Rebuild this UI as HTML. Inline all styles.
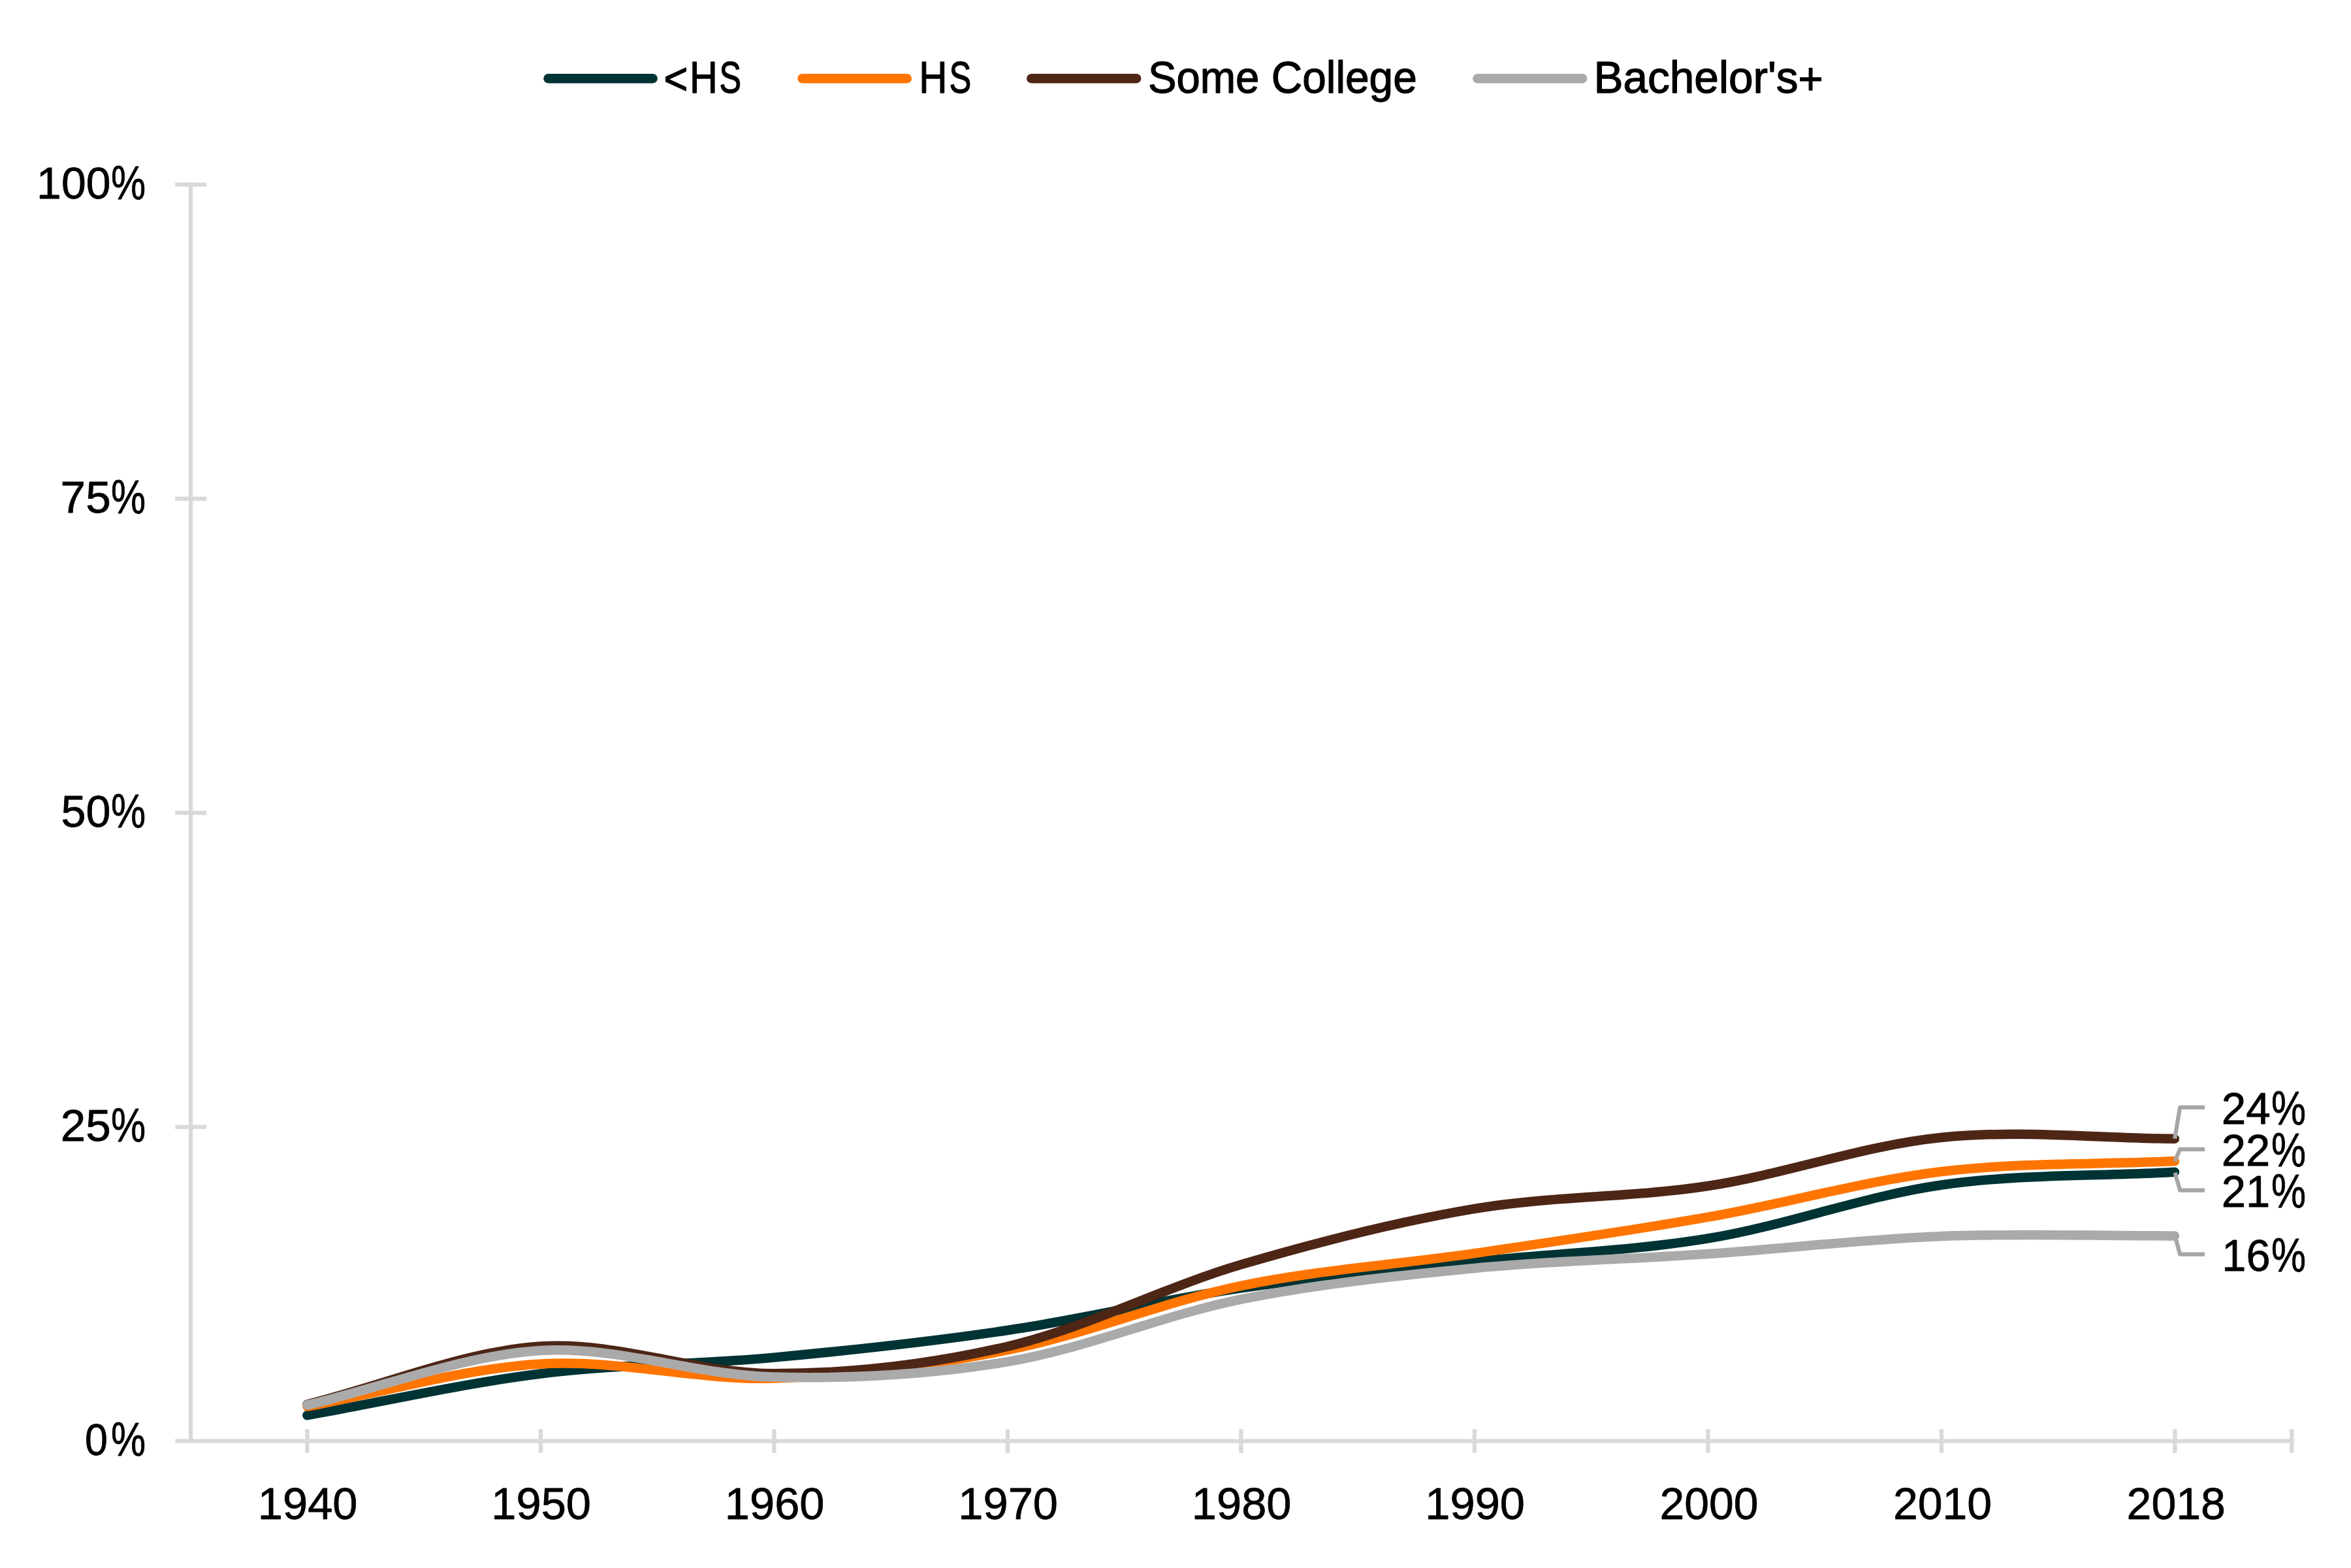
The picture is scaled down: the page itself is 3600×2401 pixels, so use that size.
<!DOCTYPE html>
<html lang="en"><head><meta charset="utf-8"><title>Chart</title>
<style>html,body{margin:0;padding:0;background:#fff}svg{display:block}text{font-family:"Liberation Sans",sans-serif;font-size:68.3px;fill:#000}</style></head>
<body>
<svg width="3600" height="2401" viewBox="0 0 3600 2401">
<rect width="3600" height="2401" fill="#fff"/>
<g stroke="#D9D9D9" stroke-width="6.25" fill="none">
<path d="M292.1 279.6 V2209.7"/>
<path d="M268.2 2206.6 H3512.5"/>
<path d="M268.2 282.7 H316.2"/>
<path d="M268.2 763.7 H316.2"/>
<path d="M268.2 1244.6 H316.2"/>
<path d="M268.2 1725.6 H316.2"/>
<path d="M470.4 2188.4 V2224.8"/>
<path d="M827.9 2188.4 V2224.8"/>
<path d="M1185.4 2188.4 V2224.8"/>
<path d="M1542.9 2188.4 V2224.8"/>
<path d="M1900.4 2188.4 V2224.8"/>
<path d="M2257.9 2188.4 V2224.8"/>
<path d="M2615.4 2188.4 V2224.8"/>
<path d="M2972.9 2188.4 V2224.8"/>
<path d="M3330.4 2188.4 V2224.8"/>
<path d="M3509.3 2188.4 V2224.8"/>
</g>
<g fill="none" stroke-width="14.5" stroke-linecap="round" stroke-linejoin="round">
<path stroke="#003334" d="M470.4 2167.2 C589.6 2146.0 708.7 2118.3 827.9 2103.5 C947.1 2088.7 1066.2 2089.7 1185.4 2078.6 C1304.6 2067.5 1423.7 2054.7 1542.9 2037.0 C1662.1 2019.3 1781.2 1989.9 1900.4 1972.4 C2019.6 1954.9 2138.7 1944.5 2257.9 1931.8 C2377.1 1919.1 2496.2 1916.0 2615.4 1896.4 C2734.6 1876.9 2853.8 1831.5 2972.9 1814.5 C3092.0 1797.5 3210.9 1801.3 3329.9 1794.7"/>
<path stroke="#FF7500" d="M470.4 2153.5 C589.6 2131.8 708.7 2095.7 827.9 2088.5 C947.1 2081.3 1066.2 2114.1 1185.4 2110.5 C1304.6 2106.9 1423.7 2090.8 1542.9 2067.2 C1662.1 2043.6 1781.2 1993.6 1900.4 1968.9 C2019.6 1944.2 2138.7 1936.7 2257.9 1919.2 C2377.1 1901.7 2496.2 1884.6 2615.4 1863.7 C2734.6 1842.8 2853.8 1808.3 2972.9 1794.0 C3092.0 1779.7 3210.9 1783.4 3329.9 1778.1"/>
<path stroke="#4E2616" d="M470.4 2150.5 C589.6 2120.9 708.7 2069.5 827.9 2061.6 C947.1 2053.7 1066.2 2103.3 1185.4 2103.3 C1304.6 2103.3 1423.7 2089.5 1542.9 2061.7 C1662.1 2033.9 1781.2 1971.5 1900.4 1936.4 C2019.6 1901.3 2138.7 1871.0 2257.9 1850.9 C2377.1 1830.8 2496.2 1834.2 2615.4 1816.0 C2734.6 1797.8 2853.8 1753.7 2972.9 1741.7 C3092.0 1729.7 3210.9 1743.1 3329.9 1743.8"/>
<path stroke="#AAAAAA" d="M470.4 2151.4 C589.6 2123.6 708.7 2075.2 827.9 2068.1 C947.1 2061.0 1066.2 2105.8 1185.4 2108.6 C1304.6 2111.4 1423.7 2105.0 1542.9 2085.2 C1662.1 2065.4 1781.2 2013.5 1900.4 1989.6 C2019.6 1965.7 2138.7 1953.6 2257.9 1942.0 C2377.1 1930.4 2496.2 1928.3 2615.4 1920.1 C2734.6 1911.9 2853.8 1897.5 2972.9 1892.9 C3092.0 1888.3 3210.9 1892.6 3329.9 1892.4"/>
</g>
<g fill="none" stroke="#A6A6A6" stroke-width="6.25" stroke-linejoin="round">
<path d="M3330.1 1743.5 L3338.1 1695.7 H3376"/>
<path d="M3330.3 1778.5 L3338.1 1759.9 H3376"/>
<path d="M3330.5 1795.7 L3338.1 1822.6 H3376"/>
<path d="M3330.5 1892.6 L3338.1 1920.5 H3376"/>
</g>
<g fill="none" stroke-width="14.5" stroke-linecap="round">
<path stroke="#003334" d="M839.5 120.2 H999.6"/>
<path stroke="#FF7500" d="M1228.5 120.2 H1388.8"/>
<path stroke="#4E2616" d="M1579.3 120.2 H1740.2"/>
<path stroke="#AAAAAA" d="M2262.3 120.2 H2423.2"/>
</g>
<g stroke="#000" stroke-width="0.80" stroke-linejoin="round">
<text xml:space="preserve" stroke-width="1.3"><tspan x="1016.60" y="144.2" textLength="36.85" lengthAdjust="spacingAndGlyphs">&lt;</tspan><tspan x="1055.95" y="142.0" textLength="42.88" lengthAdjust="spacingAndGlyphs">H</tspan><tspan x="1101.49" y="142.0" textLength="33.52" lengthAdjust="spacingAndGlyphs">S</tspan></text>
<text xml:space="preserve" stroke-width="1.3"><tspan x="1407.21" y="142.0" textLength="43.27" lengthAdjust="spacingAndGlyphs">H</tspan><tspan x="1453.47" y="142.0" textLength="33.76" lengthAdjust="spacingAndGlyphs">S</tspan></text>
<text xml:space="preserve" stroke-width="1.3"><tspan x="1757.91" y="142.0" textLength="188.59" lengthAdjust="spacingAndGlyphs">Some </tspan><tspan x="1946.86" y="142.0" textLength="222.85" lengthAdjust="spacingAndGlyphs">College</tspan></text>
<text xml:space="preserve" stroke-width="1.3"><tspan x="2440.58" y="142.0" textLength="312.94" lengthAdjust="spacingAndGlyphs">Bachelor's</tspan><tspan x="2753.38" y="144.0" textLength="38.17" lengthAdjust="spacingAndGlyphs">+</tspan></text>
<text xml:space="preserve"><tspan x="56.11" y="303.7" textLength="113.31" lengthAdjust="spacingAndGlyphs">100</tspan><tspan x="170.01" y="305.1" font-size="71.7" textLength="53.08" lengthAdjust="spacingAndGlyphs">%</tspan></text>
<text xml:space="preserve"><tspan x="92.56" y="784.7" textLength="77.18" lengthAdjust="spacingAndGlyphs">75</tspan><tspan x="170.01" y="786.1" font-size="71.7" textLength="53.08" lengthAdjust="spacingAndGlyphs">%</tspan></text>
<text xml:space="preserve"><tspan x="93.46" y="1265.6" textLength="76.06" lengthAdjust="spacingAndGlyphs">50</tspan><tspan x="170.01" y="1267.0" font-size="71.7" textLength="53.08" lengthAdjust="spacingAndGlyphs">%</tspan></text>
<text xml:space="preserve"><tspan x="92.74" y="1746.6" textLength="76.99" lengthAdjust="spacingAndGlyphs">25</tspan><tspan x="170.01" y="1748.0" font-size="71.7" textLength="53.08" lengthAdjust="spacingAndGlyphs">%</tspan></text>
<text xml:space="preserve"><tspan x="130.09" y="2227.6" textLength="34.94" lengthAdjust="spacingAndGlyphs">0</tspan><tspan x="170.01" y="2229.0" font-size="71.7" textLength="53.08" lengthAdjust="spacingAndGlyphs">%</tspan></text>
<text xml:space="preserve"><tspan x="3401.83" y="1720.8" textLength="74.87" lengthAdjust="spacingAndGlyphs">24</tspan><tspan x="3478.01" y="1722.2" font-size="71.7" textLength="52.97" lengthAdjust="spacingAndGlyphs">%</tspan></text>
<text xml:space="preserve"><tspan x="3401.76" y="1784.9" textLength="74.37" lengthAdjust="spacingAndGlyphs">22</tspan><tspan x="3478.01" y="1786.3" font-size="71.7" textLength="52.97" lengthAdjust="spacingAndGlyphs">%</tspan></text>
<text xml:space="preserve"><tspan x="3401.76" y="1848.0" textLength="74.37" lengthAdjust="spacingAndGlyphs">21</tspan><tspan x="3478.01" y="1849.4" font-size="71.7" textLength="52.97" lengthAdjust="spacingAndGlyphs">%</tspan></text>
<text xml:space="preserve"><tspan x="3402.30" y="1946.0" textLength="74.19" lengthAdjust="spacingAndGlyphs">16</tspan><tspan x="3478.01" y="1947.4" font-size="71.7" textLength="52.97" lengthAdjust="spacingAndGlyphs">%</tspan></text>
<text xml:space="preserve"><tspan x="394.85" y="2325.8" textLength="152.67" lengthAdjust="spacingAndGlyphs">1940</tspan></text>
<text xml:space="preserve"><tspan x="752.35" y="2325.8" textLength="152.67" lengthAdjust="spacingAndGlyphs">1950</tspan></text>
<text xml:space="preserve"><tspan x="1109.85" y="2325.8" textLength="152.67" lengthAdjust="spacingAndGlyphs">1960</tspan></text>
<text xml:space="preserve"><tspan x="1467.35" y="2325.8" textLength="152.67" lengthAdjust="spacingAndGlyphs">1970</tspan></text>
<text xml:space="preserve"><tspan x="1824.85" y="2325.8" textLength="152.67" lengthAdjust="spacingAndGlyphs">1980</tspan></text>
<text xml:space="preserve"><tspan x="2182.35" y="2325.8" textLength="152.67" lengthAdjust="spacingAndGlyphs">1990</tspan></text>
<text xml:space="preserve"><tspan x="2541.61" y="2325.8" textLength="150.88" lengthAdjust="spacingAndGlyphs">2000</tspan></text>
<text xml:space="preserve"><tspan x="2899.11" y="2325.8" textLength="150.88" lengthAdjust="spacingAndGlyphs">2010</tspan></text>
<text xml:space="preserve"><tspan x="3256.60" y="2325.8" textLength="151.23" lengthAdjust="spacingAndGlyphs">2018</tspan></text>
</g>
</svg>
</body></html>
